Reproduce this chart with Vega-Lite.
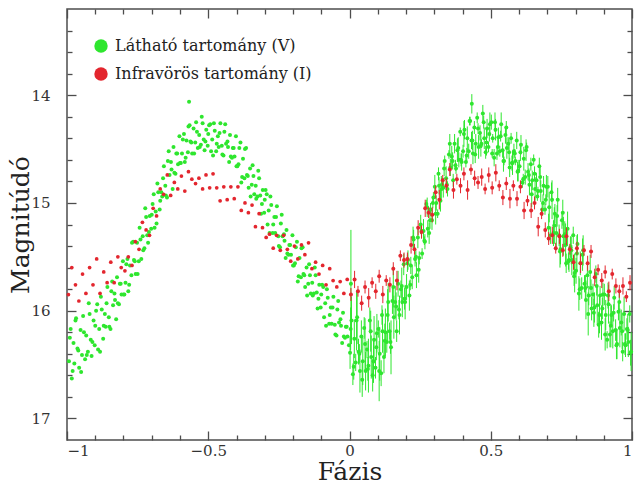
{
  "$schema": "https://vega.github.io/schema/vega-lite/v6.json",
  "width": 565,
  "height": 431,
  "autosize": {"type": "none"},
  "padding": {"left": 67, "top": 9, "right": 3, "bottom": 45},
  "background": "white",
  "config": {
    "view": {"stroke": "#4d4d4d", "strokeWidth": 1.5},
    "axis": {
      "domain": false,
      "grid": false,
      "tickColor": "#4d4d4d",
      "tickWidth": 1.3,
      "labelFont": "DejaVu Serif",
      "labelFontSize": 15,
      "labelColor": "#333333",
      "titleFont": "DejaVu Serif",
      "titleFontSize": 25,
      "titleFontWeight": "normal",
      "titleColor": "#222222"
    }
  },
  "datasets": {
    "vl": [
      {"p":-0.993,"m":16.47},{"p":-0.987,"m":16.17},{"p":-0.983,"m":16.63},{"p":-0.977,"m":16.30},{"p":-0.974,"m":16.49},{"p":-0.968,"m":16.07},{"p":-0.963,"m":16.35},{"p":-0.957,"m":16.53},{"p":-0.952,"m":16.18},{"p":-0.947,"m":16.41},
      {"p":-0.943,"m":16.05},{"p":-0.936,"m":16.45},{"p":-0.932,"m":16.23},{"p":-0.926,"m":16.38},{"p":-0.923,"m":15.93},{"p":-0.916,"m":16.27},{"p":-0.913,"m":16.42},{"p":-0.906,"m":16.09},{"p":-0.902,"m":16.32},{"p":-0.897,"m":16.00},
      {"p":-0.893,"m":15.94},{"p":-0.886,"m":16.17},{"p":-0.883,"m":16.38},{"p":-0.877,"m":15.99},{"p":-0.872,"m":16.26},{"p":-0.866,"m":16.03},{"p":-0.863,"m":16.15},{"p":-0.857,"m":15.78},{"p":-0.852,"m":16.06},{"p":-0.846,"m":16.17},
      {"p":-0.843,"m":15.82},{"p":-0.837,"m":15.95},{"p":-0.832,"m":15.84},{"p":-0.826,"m":16.08},{"p":-0.823,"m":15.69},{"p":-0.816,"m":15.94},{"p":-0.813,"m":15.75},{"p":-0.807,"m":15.85},{"p":-0.802,"m":15.54},{"p":-0.797,"m":15.85},
      {"p":-0.793,"m":15.74},{"p":-0.786,"m":15.52},{"p":-0.783,"m":15.82},{"p":-0.777,"m":15.58},{"p":-0.772,"m":15.67},{"p":-0.766,"m":15.36},{"p":-0.763,"m":15.53},{"p":-0.757,"m":15.66},{"p":-0.752,"m":15.37},{"p":-0.746,"m":15.54},
      {"p":-0.743,"m":15.23},{"p":-0.737,"m":15.52},{"p":-0.732,"m":15.31},{"p":-0.726,"m":15.42},{"p":-0.723,"m":15.05},{"p":-0.716,"m":15.30},{"p":-0.713,"m":15.37},{"p":-0.707,"m":15.12},{"p":-0.702,"m":15.24},{"p":-0.697,"m":15.01},
      {"p":-0.693,"m":14.92},{"p":-0.686,"m":15.08},{"p":-0.683,"m":15.19},{"p":-0.677,"m":14.90},{"p":-0.672,"m":15.06},{"p":-0.666,"m":14.90},{"p":-0.663,"m":14.94},{"p":-0.657,"m":14.66},{"p":-0.652,"m":14.84},{"p":-0.646,"m":14.95},
      {"p":-0.643,"m":14.61},{"p":-0.637,"m":14.74},{"p":-0.632,"m":14.62},{"p":-0.626,"m":14.87},{"p":-0.623,"m":14.48},{"p":-0.616,"m":14.73},{"p":-0.613,"m":14.54},{"p":-0.607,"m":14.64},{"p":-0.602,"m":14.38},{"p":-0.597,"m":14.63},
      {"p":-0.593,"m":14.54},{"p":-0.586,"m":14.36},{"p":-0.583,"m":14.62},{"p":-0.577,"m":14.42},{"p":-0.572,"m":14.53},{"p":-0.566,"m":14.28},{"p":-0.563,"m":14.43},{"p":-0.557,"m":14.54},{"p":-0.552,"m":14.31},{"p":-0.546,"m":14.44},
      {"p":-0.543,"m":14.25},{"p":-0.537,"m":14.49},{"p":-0.532,"m":14.37},{"p":-0.526,"m":14.46},{"p":-0.523,"m":14.20},{"p":-0.516,"m":14.41},{"p":-0.513,"m":14.51},{"p":-0.507,"m":14.32},{"p":-0.502,"m":14.47},{"p":-0.497,"m":14.28},
      {"p":-0.493,"m":14.27},{"p":-0.486,"m":14.41},{"p":-0.483,"m":14.56},{"p":-0.477,"m":14.33},{"p":-0.472,"m":14.52},{"p":-0.466,"m":14.38},{"p":-0.463,"m":14.48},{"p":-0.457,"m":14.26},{"p":-0.452,"m":14.47},{"p":-0.446,"m":14.56},
      {"p":-0.443,"m":14.34},{"p":-0.437,"m":14.45},{"p":-0.432,"m":14.43},{"p":-0.426,"m":14.62},{"p":-0.423,"m":14.37},{"p":-0.416,"m":14.58},{"p":-0.413,"m":14.49},{"p":-0.407,"m":14.57},{"p":-0.402,"m":14.38},{"p":-0.397,"m":14.66},
      {"p":-0.393,"m":14.64},{"p":-0.386,"m":14.44},{"p":-0.383,"m":14.81},{"p":-0.377,"m":14.59},{"p":-0.372,"m":14.77},{"p":-0.366,"m":14.49},{"p":-0.363,"m":14.74},{"p":-0.357,"m":14.86},{"p":-0.352,"m":14.68},{"p":-0.346,"m":14.83},
      {"p":-0.343,"m":14.65},{"p":-0.337,"m":14.92},{"p":-0.332,"m":14.84},{"p":-0.326,"m":14.94},{"p":-0.323,"m":14.70},{"p":-0.316,"m":14.93},{"p":-0.313,"m":15.10},{"p":-0.307,"m":14.88},{"p":-0.302,"m":15.09},{"p":-0.297,"m":14.88},
      {"p":-0.293,"m":14.92},{"p":-0.286,"m":15.07},{"p":-0.283,"m":15.28},{"p":-0.277,"m":15.02},{"p":-0.272,"m":15.28},{"p":-0.266,"m":15.13},{"p":-0.263,"m":15.28},{"p":-0.257,"m":15.03},{"p":-0.252,"m":15.31},{"p":-0.246,"m":15.41},
      {"p":-0.243,"m":15.19},{"p":-0.237,"m":15.31},{"p":-0.232,"m":15.29},{"p":-0.226,"m":15.51},{"p":-0.223,"m":15.25},{"p":-0.216,"m":15.48},{"p":-0.213,"m":15.39},{"p":-0.207,"m":15.48},{"p":-0.202,"m":15.30},{"p":-0.197,"m":15.58},
      {"p":-0.193,"m":15.56},{"p":-0.186,"m":15.36},{"p":-0.183,"m":15.73},{"p":-0.177,"m":15.51},{"p":-0.172,"m":15.69},{"p":-0.166,"m":15.41},{"p":-0.163,"m":15.66},{"p":-0.157,"m":15.78},{"p":-0.152,"m":15.60},{"p":-0.146,"m":15.75},
      {"p":-0.143,"m":15.57},{"p":-0.137,"m":15.84},{"p":-0.132,"m":15.74},{"p":-0.126,"m":15.84},{"p":-0.123,"m":15.60},{"p":-0.116,"m":15.83},{"p":-0.113,"m":15.98},{"p":-0.107,"m":15.76},{"p":-0.102,"m":15.97},{"p":-0.097,"m":15.76},
      {"p":-0.093,"m":15.78},{"p":-0.086,"m":15.93},{"p":-0.083,"m":16.14},{"p":-0.077,"m":15.88},{"p":-0.072,"m":16.12},{"p":-0.066,"m":15.97},{"p":-0.063,"m":16.12},{"p":-0.057,"m":15.87},{"p":-0.052,"m":16.13},{"p":-0.046,"m":16.23},
      {"p":-0.043,"m":15.99},{"p":-0.037,"m":16.11},{"p":-0.032,"m":16.08},{"p":-0.026,"m":16.30},{"p":-0.023,"m":16.02},{"p":-0.016,"m":16.25},{"p":-0.013,"m":16.15},{"p":-0.007,"m":16.24},{"p":-0.568,"m":14.06},
      {"p":-0.990,"m":16.25},{"p":-0.980,"m":16.56},{"p":-0.970,"m":16.09},{"p":-0.960,"m":16.37},{"p":-0.950,"m":16.57},{"p":-0.940,"m":16.20},{"p":-0.930,"m":16.41},{"p":-0.920,"m":16.03},{"p":-0.910,"m":16.29},{"p":-0.900,"m":16.14},
      {"p":-0.890,"m":16.36},{"p":-0.880,"m":15.87},{"p":-0.870,"m":16.14},{"p":-0.860,"m":15.93},{"p":-0.850,"m":16.15},{"p":-0.840,"m":15.73},{"p":-0.830,"m":15.90},{"p":-0.820,"m":15.93},{"p":-0.810,"m":15.75},{"p":-0.800,"m":15.85},
      {"p":-0.790,"m":15.57},{"p":-0.780,"m":15.76},{"p":-0.770,"m":15.37},{"p":-0.760,"m":15.54},{"p":-0.750,"m":15.66},{"p":-0.740,"m":15.34},{"p":-0.730,"m":15.44},{"p":-0.720,"m":15.13},{"p":-0.710,"m":15.27},{"p":-0.700,"m":15.11},
      {"p":-0.690,"m":15.23},{"p":-0.680,"m":14.82},{"p":-0.670,"m":14.98},{"p":-0.660,"m":14.77},{"p":-0.650,"m":14.93},{"p":-0.640,"m":14.52},{"p":-0.630,"m":14.69},{"p":-0.620,"m":14.72},{"p":-0.610,"m":14.54},{"p":-0.600,"m":14.63},
      {"p":-0.590,"m":14.41},{"p":-0.580,"m":14.58},{"p":-0.570,"m":14.29},{"p":-0.560,"m":14.44},{"p":-0.550,"m":14.54},{"p":-0.540,"m":14.34},{"p":-0.530,"m":14.48},{"p":-0.520,"m":14.26},{"p":-0.510,"m":14.43},{"p":-0.500,"m":14.36},
      {"p":-0.490,"m":14.52},{"p":-0.480,"m":14.26},{"p":-0.470,"m":14.45},{"p":-0.460,"m":14.35},{"p":-0.450,"m":14.55},{"p":-0.440,"m":14.27},{"p":-0.430,"m":14.48},{"p":-0.420,"m":14.57},{"p":-0.410,"m":14.49},{"p":-0.400,"m":14.66},
      {"p":-0.390,"m":14.49},{"p":-0.380,"m":14.76},{"p":-0.370,"m":14.50},{"p":-0.360,"m":14.75},{"p":-0.350,"m":14.94},{"p":-0.340,"m":14.75},{"p":-0.330,"m":14.96},{"p":-0.320,"m":14.77},{"p":-0.310,"m":15.01},{"p":-0.300,"m":14.97},
      {"p":-0.290,"m":15.20},{"p":-0.280,"m":14.94},{"p":-0.270,"m":15.20},{"p":-0.260,"m":15.13},{"p":-0.250,"m":15.40},{"p":-0.240,"m":15.11},{"p":-0.230,"m":15.35},{"p":-0.220,"m":15.47},{"p":-0.210,"m":15.39},{"p":-0.200,"m":15.58},
      {"p":-0.190,"m":15.41},{"p":-0.180,"m":15.68},{"p":-0.170,"m":15.42},{"p":-0.160,"m":15.67},{"p":-0.150,"m":15.86},{"p":-0.140,"m":15.67},{"p":-0.130,"m":15.86},{"p":-0.120,"m":15.67},{"p":-0.110,"m":15.89},{"p":-0.100,"m":15.85},
      {"p":-0.090,"m":16.06},{"p":-0.080,"m":15.80},{"p":-0.070,"m":16.04},{"p":-0.060,"m":15.97},{"p":-0.050,"m":16.22},{"p":-0.040,"m":15.91},{"p":-0.030,"m":16.14},{"p":-0.020,"m":16.24},{"p":-0.010,"m":16.15},{"p":-0.002,"m":16.32}
    ],
    "il": [
      {"p":-0.995,"m":15.85},{"p":-0.983,"m":15.60},{"p":-0.970,"m":15.76},{"p":-0.958,"m":15.91},{"p":-0.945,"m":15.66},{"p":-0.933,"m":15.84},{"p":-0.920,"m":15.60},{"p":-0.908,"m":15.76},{"p":-0.895,"m":15.52},{"p":-0.883,"m":15.84},
      {"p":-0.870,"m":15.64},{"p":-0.858,"m":15.74},{"p":-0.845,"m":15.55},{"p":-0.833,"m":15.74},{"p":-0.820,"m":15.50},{"p":-0.808,"m":15.60},{"p":-0.795,"m":15.63},{"p":-0.783,"m":15.50},{"p":-0.770,"m":15.58},{"p":-0.758,"m":15.36},
      {"p":-0.745,"m":15.43},{"p":-0.733,"m":15.18},{"p":-0.720,"m":15.25},{"p":-0.708,"m":15.30},{"p":-0.695,"m":15.05},{"p":-0.683,"m":15.12},{"p":-0.670,"m":14.87},{"p":-0.658,"m":14.92},{"p":-0.645,"m":14.74},{"p":-0.633,"m":14.93},
      {"p":-0.620,"m":14.81},{"p":-0.608,"m":14.87},{"p":-0.595,"m":14.75},{"p":-0.583,"m":14.89},{"p":-0.570,"m":14.71},{"p":-0.558,"m":14.78},{"p":-0.545,"m":14.82},{"p":-0.533,"m":14.77},{"p":-0.520,"m":14.87},{"p":-0.508,"m":14.74},
      {"p":-0.495,"m":14.86},{"p":-0.483,"m":14.73},{"p":-0.470,"m":14.86},{"p":-0.458,"m":14.98},{"p":-0.445,"m":14.85},{"p":-0.433,"m":14.97},{"p":-0.420,"m":14.85},{"p":-0.408,"m":14.96},{"p":-0.395,"m":14.85},{"p":-0.383,"m":15.07},
      {"p":-0.370,"m":15.00},{"p":-0.358,"m":15.09},{"p":-0.345,"m":15.02},{"p":-0.333,"m":15.22},{"p":-0.320,"m":15.10},{"p":-0.308,"m":15.23},{"p":-0.295,"m":15.32},{"p":-0.283,"m":15.29},{"p":-0.270,"m":15.42},{"p":-0.258,"m":15.30},
      {"p":-0.245,"m":15.44},{"p":-0.233,"m":15.30},{"p":-0.220,"m":15.43},{"p":-0.208,"m":15.54},{"p":-0.195,"m":15.40},{"p":-0.183,"m":15.52},{"p":-0.170,"m":15.39},{"p":-0.158,"m":15.48},{"p":-0.145,"m":15.37},{"p":-0.133,"m":15.61},
      {"p":-0.120,"m":15.55},{"p":-0.108,"m":15.66},{"p":-0.095,"m":15.58},{"p":-0.083,"m":15.76},{"p":-0.070,"m":15.61},{"p":-0.058,"m":15.72},{"p":-0.045,"m":15.78},{"p":-0.033,"m":15.73},{"p":-0.020,"m":15.84},{"p":-0.008,"m":15.71}
    ],
    "vr": [
      {"p":0.005,"m":15.75,"e":0.5},
      {"p":0.002,"m":16.39,"e":0.15},{"p":0.007,"m":16.09,"e":0.22},{"p":0.012,"m":16.59,"e":0.10},{"p":0.017,"m":16.26,"e":0.18},{"p":0.022,"m":16.48,"e":0.08},{"p":0.027,"m":16.06,"e":0.25},{"p":0.032,"m":16.38,"e":0.12},{"p":0.037,"m":16.56,"e":0.20},{"p":0.042,"m":16.24,"e":0.15},{"p":0.047,"m":16.47,"e":0.22},
      {"p":0.052,"m":16.16,"e":0.10},{"p":0.057,"m":16.56,"e":0.18},{"p":0.062,"m":16.36,"e":0.08},{"p":0.067,"m":16.51,"e":0.25},{"p":0.072,"m":16.09,"e":0.12},{"p":0.077,"m":16.43,"e":0.20},{"p":0.082,"m":16.60,"e":0.15},{"p":0.087,"m":16.27,"e":0.22},{"p":0.092,"m":16.53,"e":0.10},{"p":0.097,"m":16.21,"e":0.18},
      {"p":0.102,"m":16.17,"e":0.08},{"p":0.107,"m":16.40,"e":0.25},{"p":0.112,"m":16.58,"e":0.12},{"p":0.117,"m":16.19,"e":0.20},{"p":0.122,"m":16.43,"e":0.15},{"p":0.127,"m":16.20,"e":0.22},{"p":0.132,"m":16.29,"e":0.10},{"p":0.137,"m":15.92,"e":0.18},{"p":0.142,"m":16.19,"e":0.08},{"p":0.147,"m":16.34,"e":0.25},
      {"p":0.152,"m":15.91,"e":0.12},{"p":0.157,"m":16.06,"e":0.20},{"p":0.162,"m":15.92,"e":0.15},{"p":0.167,"m":16.19,"e":0.10},{"p":0.172,"m":15.75,"e":0.12},{"p":0.177,"m":16.04,"e":0.18},{"p":0.182,"m":15.80,"e":0.08},{"p":0.187,"m":15.92,"e":0.14},{"p":0.192,"m":15.57,"e":0.10},{"p":0.197,"m":15.92,"e":0.16},
      {"p":0.202,"m":15.78,"e":0.12},{"p":0.207,"m":15.53,"e":0.09},{"p":0.212,"m":15.86,"e":0.14},{"p":0.217,"m":15.58,"e":0.08},{"p":0.222,"m":15.69,"e":0.11},{"p":0.227,"m":15.34,"e":0.09},{"p":0.232,"m":15.52,"e":0.07},{"p":0.237,"m":15.67,"e":0.12},{"p":0.242,"m":15.32,"e":0.10},{"p":0.247,"m":15.51,"e":0.06},
      {"p":0.252,"m":15.20,"e":0.09},{"p":0.257,"m":15.47,"e":0.05},{"p":0.262,"m":15.26,"e":0.11},{"p":0.267,"m":15.36,"e":0.07},{"p":0.272,"m":15.01,"e":0.04},{"p":0.277,"m":15.24,"e":0.08},{"p":0.282,"m":15.28,"e":0.10},{"p":0.287,"m":15.06,"e":0.06},{"p":0.292,"m":15.16,"e":0.09},{"p":0.297,"m":14.95,"e":0.05},
      {"p":0.302,"m":14.85,"e":0.11},{"p":0.307,"m":15.00,"e":0.07},{"p":0.312,"m":15.10,"e":0.04},{"p":0.317,"m":14.84,"e":0.08},{"p":0.322,"m":14.98,"e":0.10},{"p":0.327,"m":14.83,"e":0.06},{"p":0.332,"m":14.86,"e":0.09},{"p":0.337,"m":14.61,"e":0.05},{"p":0.342,"m":14.77,"e":0.11},{"p":0.347,"m":14.87,"e":0.07},
      {"p":0.352,"m":14.55,"e":0.04},{"p":0.357,"m":14.67,"e":0.08},{"p":0.362,"m":14.57,"e":0.10},{"p":0.367,"m":14.79,"e":0.06},{"p":0.372,"m":14.45,"e":0.09},{"p":0.377,"m":14.68,"e":0.05},{"p":0.382,"m":14.51,"e":0.11},{"p":0.387,"m":14.60,"e":0.07},{"p":0.392,"m":14.34,"e":0.04},{"p":0.397,"m":14.62,"e":0.08},
      {"p":0.402,"m":14.52,"e":0.06},{"p":0.407,"m":14.32,"e":0.09},{"p":0.412,"m":14.62,"e":0.05},{"p":0.417,"m":14.40,"e":0.11},{"p":0.422,"m":14.52,"e":0.07},{"p":0.427,"m":14.24,"e":0.04},{"p":0.432,"m":14.42,"e":0.08},{"p":0.437,"m":14.54,"e":0.10},{"p":0.433,"m":14.08,"e":0.09},
      {"p":0.442,"m":14.30,"e":0.06},{"p":0.447,"m":14.45,"e":0.09},{"p":0.452,"m":14.21,"e":0.05},{"p":0.457,"m":14.48,"e":0.11},{"p":0.462,"m":14.35,"e":0.07},{"p":0.467,"m":14.45,"e":0.04},{"p":0.472,"m":14.17,"e":0.08},{"p":0.477,"m":14.40,"e":0.10},{"p":0.482,"m":14.53,"e":0.06},{"p":0.487,"m":14.31,"e":0.09},
      {"p":0.492,"m":14.48,"e":0.05},{"p":0.497,"m":14.27,"e":0.11},{"p":0.502,"m":14.25,"e":0.07},{"p":0.507,"m":14.40,"e":0.04},{"p":0.512,"m":14.58,"e":0.08},{"p":0.517,"m":14.32,"e":0.10},{"p":0.522,"m":14.54,"e":0.06},{"p":0.527,"m":14.39,"e":0.09},{"p":0.532,"m":14.52,"e":0.05},{"p":0.537,"m":14.27,"e":0.11},
      {"p":0.542,"m":14.51,"e":0.07},{"p":0.547,"m":14.61,"e":0.04},{"p":0.552,"m":14.37,"e":0.08},{"p":0.557,"m":14.49,"e":0.10},{"p":0.562,"m":14.45,"e":0.06},{"p":0.567,"m":14.67,"e":0.09},{"p":0.572,"m":14.40,"e":0.05},{"p":0.577,"m":14.63,"e":0.11},{"p":0.582,"m":14.52,"e":0.07},{"p":0.587,"m":14.61,"e":0.04},
      {"p":0.592,"m":14.42,"e":0.08},{"p":0.597,"m":14.70,"e":0.10},{"p":0.602,"m":14.66,"e":0.06},{"p":0.607,"m":14.46,"e":0.09},{"p":0.612,"m":14.81,"e":0.05},{"p":0.617,"m":14.59,"e":0.11},{"p":0.622,"m":14.76,"e":0.07},{"p":0.627,"m":14.48,"e":0.04},{"p":0.632,"m":14.71,"e":0.08},{"p":0.637,"m":14.83,"e":0.10},
      {"p":0.642,"m":14.64,"e":0.06},{"p":0.647,"m":14.79,"e":0.09},{"p":0.652,"m":14.60,"e":0.05},{"p":0.657,"m":14.87,"e":0.11},{"p":0.662,"m":14.79,"e":0.07},{"p":0.667,"m":14.89,"e":0.04},{"p":0.672,"m":14.66,"e":0.08},{"p":0.677,"m":14.89,"e":0.10},{"p":0.682,"m":15.06,"e":0.06},{"p":0.687,"m":14.84,"e":0.09},
      {"p":0.692,"m":15.06,"e":0.05},{"p":0.697,"m":14.85,"e":0.11},{"p":0.702,"m":14.85,"e":0.10},{"p":0.707,"m":15.04,"e":0.14},{"p":0.712,"m":15.30,"e":0.08},{"p":0.717,"m":14.97,"e":0.18},{"p":0.722,"m":15.28,"e":0.12},{"p":0.727,"m":15.10,"e":0.09},{"p":0.732,"m":15.28,"e":0.16},{"p":0.737,"m":14.97,"e":0.11},
      {"p":0.742,"m":15.30,"e":0.10},{"p":0.747,"m":15.43,"e":0.14},{"p":0.752,"m":15.16,"e":0.08},{"p":0.757,"m":15.31,"e":0.18},{"p":0.762,"m":15.29,"e":0.12},{"p":0.767,"m":15.56,"e":0.09},{"p":0.772,"m":15.24,"e":0.16},{"p":0.777,"m":15.53,"e":0.11},{"p":0.782,"m":15.41,"e":0.10},{"p":0.787,"m":15.53,"e":0.14},
      {"p":0.792,"m":15.30,"e":0.08},{"p":0.797,"m":15.65,"e":0.18},{"p":0.802,"m":15.63,"e":0.12},{"p":0.807,"m":15.38,"e":0.09},{"p":0.812,"m":15.84,"e":0.16},{"p":0.817,"m":15.56,"e":0.11},{"p":0.822,"m":15.79,"e":0.10},{"p":0.827,"m":15.44,"e":0.14},{"p":0.832,"m":15.75,"e":0.08},{"p":0.837,"m":15.90,"e":0.18},
      {"p":0.842,"m":15.67,"e":0.12},{"p":0.847,"m":15.86,"e":0.09},{"p":0.852,"m":15.64,"e":0.16},{"p":0.857,"m":15.98,"e":0.11},{"p":0.862,"m":15.85,"e":0.10},{"p":0.867,"m":15.97,"e":0.14},{"p":0.872,"m":15.66,"e":0.08},{"p":0.877,"m":15.95,"e":0.18},{"p":0.882,"m":16.13,"e":0.12},{"p":0.887,"m":15.86,"e":0.09},
      {"p":0.892,"m":16.11,"e":0.16},{"p":0.897,"m":15.85,"e":0.11},{"p":0.902,"m":15.85,"e":0.10},{"p":0.907,"m":16.04,"e":0.14},{"p":0.912,"m":16.27,"e":0.08},{"p":0.917,"m":15.94,"e":0.18},{"p":0.922,"m":16.22,"e":0.12},{"p":0.927,"m":16.04,"e":0.09},{"p":0.932,"m":16.19,"e":0.16},{"p":0.937,"m":15.88,"e":0.11},
      {"p":0.942,"m":16.18,"e":0.10},{"p":0.947,"m":16.31,"e":0.14},{"p":0.952,"m":16.01,"e":0.08},{"p":0.957,"m":16.16,"e":0.18},{"p":0.962,"m":16.11,"e":0.12},{"p":0.967,"m":16.38,"e":0.09},{"p":0.972,"m":16.03,"e":0.16},{"p":0.977,"m":16.32,"e":0.11},{"p":0.982,"m":16.17,"e":0.10},{"p":0.987,"m":16.29,"e":0.14},
      {"p":0.992,"m":16.03,"e":0.08},{"p":0.997,"m":16.38,"e":0.18},
      {"p":0.004,"m":16.17,"e":0.20},{"p":0.015,"m":16.52,"e":0.12},{"p":0.025,"m":16.09,"e":0.28},{"p":0.035,"m":16.40,"e":0.09},{"p":0.045,"m":16.64,"e":0.16},{"p":0.055,"m":16.31,"e":0.24},{"p":0.065,"m":16.54,"e":0.11},{"p":0.075,"m":16.19,"e":0.19},{"p":0.085,"m":16.47,"e":0.20},{"p":0.095,"m":16.34,"e":0.12},
      {"p":0.105,"m":16.56,"e":0.28},{"p":0.115,"m":16.04,"e":0.09},{"p":0.125,"m":16.28,"e":0.16},{"p":0.135,"m":16.04,"e":0.24},{"p":0.145,"m":16.29,"e":0.11},{"p":0.155,"m":15.78,"e":0.19},{"p":0.165,"m":15.96,"e":0.13},{"p":0.175,"m":15.99,"e":0.09},{"p":0.185,"m":15.77,"e":0.17},{"p":0.195,"m":15.89,"e":0.10},
      {"p":0.205,"m":15.56,"e":0.08},{"p":0.215,"m":15.76,"e":0.05},{"p":0.225,"m":15.32,"e":0.10},{"p":0.235,"m":15.50,"e":0.06},{"p":0.245,"m":15.62,"e":0.12},{"p":0.255,"m":15.26,"e":0.07},{"p":0.265,"m":15.35,"e":0.04},{"p":0.275,"m":15.04,"e":0.09},{"p":0.285,"m":15.16,"e":0.08},{"p":0.295,"m":15.00,"e":0.05},
      {"p":0.305,"m":15.10,"e":0.10},{"p":0.315,"m":14.73,"e":0.06},{"p":0.325,"m":14.87,"e":0.12},{"p":0.335,"m":14.68,"e":0.07},{"p":0.345,"m":14.83,"e":0.04},{"p":0.355,"m":14.45,"e":0.09},{"p":0.365,"m":14.61,"e":0.08},{"p":0.375,"m":14.65,"e":0.05},{"p":0.385,"m":14.49,"e":0.10},{"p":0.395,"m":14.60,"e":0.06},
      {"p":0.405,"m":14.36,"e":0.12},{"p":0.415,"m":14.56,"e":0.07},{"p":0.425,"m":14.24,"e":0.04},{"p":0.435,"m":14.42,"e":0.09},{"p":0.445,"m":14.55,"e":0.08},{"p":0.455,"m":14.31,"e":0.05},{"p":0.465,"m":14.47,"e":0.10},{"p":0.475,"m":14.25,"e":0.06},{"p":0.485,"m":14.44,"e":0.12},{"p":0.495,"m":14.36,"e":0.07},
      {"p":0.505,"m":14.54,"e":0.04},{"p":0.515,"m":14.25,"e":0.09},{"p":0.525,"m":14.48,"e":0.08},{"p":0.535,"m":14.38,"e":0.05},{"p":0.545,"m":14.61,"e":0.10},{"p":0.555,"m":14.30,"e":0.06},{"p":0.565,"m":14.53,"e":0.12},{"p":0.575,"m":14.63,"e":0.07},{"p":0.585,"m":14.54,"e":0.04},{"p":0.595,"m":14.71,"e":0.09},
      {"p":0.605,"m":14.53,"e":0.08},{"p":0.615,"m":14.78,"e":0.05},{"p":0.625,"m":14.51,"e":0.10},{"p":0.635,"m":14.74,"e":0.06},{"p":0.645,"m":14.92,"e":0.12},{"p":0.655,"m":14.73,"e":0.07},{"p":0.665,"m":14.94,"e":0.04},{"p":0.675,"m":14.76,"e":0.09},{"p":0.685,"m":15.00,"e":0.08},{"p":0.695,"m":14.97,"e":0.05},
      {"p":0.705,"m":15.23,"e":0.13},{"p":0.715,"m":14.90,"e":0.09},{"p":0.725,"m":15.21,"e":0.17},{"p":0.735,"m":15.12,"e":0.10},{"p":0.745,"m":15.45,"e":0.15},{"p":0.755,"m":15.09,"e":0.12},{"p":0.765,"m":15.39,"e":0.20},{"p":0.775,"m":15.54,"e":0.08},{"p":0.785,"m":15.44,"e":0.13},{"p":0.795,"m":15.68,"e":0.09},
      {"p":0.805,"m":15.47,"e":0.17},{"p":0.815,"m":15.80,"e":0.10},{"p":0.825,"m":15.48,"e":0.15},{"p":0.835,"m":15.79,"e":0.12},{"p":0.845,"m":16.03,"e":0.20},{"p":0.855,"m":15.79,"e":0.08},{"p":0.865,"m":16.02,"e":0.13},{"p":0.875,"m":15.77,"e":0.09},{"p":0.885,"m":16.04,"e":0.17},{"p":0.895,"m":15.98,"e":0.10},
      {"p":0.905,"m":16.22,"e":0.15},{"p":0.915,"m":15.86,"e":0.12},{"p":0.925,"m":16.14,"e":0.20},{"p":0.935,"m":16.02,"e":0.08},{"p":0.945,"m":16.32,"e":0.13},{"p":0.955,"m":15.92,"e":0.09},{"p":0.965,"m":16.19,"e":0.17},{"p":0.975,"m":16.31,"e":0.10},{"p":0.985,"m":16.18,"e":0.15},{"p":0.995,"m":16.39,"e":0.12}
    ],
    "ir": [
      {"p":0.005,"m":15.85,"e":0.06},{"p":0.018,"m":15.71,"e":0.08},{"p":0.030,"m":15.82,"e":0.05},{"p":0.043,"m":15.93,"e":0.07},{"p":0.055,"m":15.78,"e":0.06},{"p":0.068,"m":15.88,"e":0.09},{"p":0.080,"m":15.74,"e":0.05},{"p":0.093,"m":15.82,"e":0.07},{"p":0.105,"m":15.68,"e":0.06},{"p":0.118,"m":15.85,"e":0.08},
      {"p":0.130,"m":15.72,"e":0.05},{"p":0.143,"m":15.76,"e":0.07},{"p":0.155,"m":15.61,"e":0.06},{"p":0.168,"m":15.72,"e":0.09},{"p":0.180,"m":15.49,"e":0.05},{"p":0.193,"m":15.53,"e":0.07},{"p":0.205,"m":15.52,"e":0.06},{"p":0.218,"m":15.39,"e":0.08},{"p":0.230,"m":15.43,"e":0.05},{"p":0.243,"m":15.23,"e":0.07},
      {"p":0.255,"m":15.27,"e":0.06},{"p":0.268,"m":15.05,"e":0.08},{"p":0.280,"m":15.09,"e":0.05},{"p":0.293,"m":15.11,"e":0.07},{"p":0.305,"m":14.90,"e":0.06},{"p":0.318,"m":14.97,"e":0.09},{"p":0.330,"m":14.79,"e":0.05},{"p":0.343,"m":14.84,"e":0.07},{"p":0.355,"m":14.69,"e":0.06},{"p":0.368,"m":14.88,"e":0.08},
      {"p":0.380,"m":14.78,"e":0.05},{"p":0.393,"m":14.84,"e":0.07},{"p":0.405,"m":14.73,"e":0.06},{"p":0.418,"m":14.88,"e":0.09},{"p":0.430,"m":14.69,"e":0.05},{"p":0.443,"m":14.77,"e":0.07},{"p":0.455,"m":14.81,"e":0.06},{"p":0.468,"m":14.76,"e":0.08},{"p":0.480,"m":14.87,"e":0.05},{"p":0.493,"m":14.74,"e":0.07},
      {"p":0.505,"m":14.86,"e":0.06},{"p":0.518,"m":14.72,"e":0.08},{"p":0.530,"m":14.84,"e":0.05},{"p":0.543,"m":14.95,"e":0.07},{"p":0.555,"m":14.82,"e":0.06},{"p":0.568,"m":14.96,"e":0.09},{"p":0.580,"m":14.84,"e":0.05},{"p":0.593,"m":14.96,"e":0.07},{"p":0.605,"m":14.85,"e":0.06},{"p":0.618,"m":15.07,"e":0.08},
      {"p":0.630,"m":14.98,"e":0.05},{"p":0.643,"m":15.07,"e":0.07},{"p":0.655,"m":15.00,"e":0.06},{"p":0.668,"m":15.22,"e":0.09},{"p":0.680,"m":15.10,"e":0.05},{"p":0.693,"m":15.25,"e":0.07},{"p":0.705,"m":15.33,"e":0.06},{"p":0.718,"m":15.30,"e":0.08},{"p":0.730,"m":15.42,"e":0.05},{"p":0.743,"m":15.31,"e":0.07},
      {"p":0.755,"m":15.44,"e":0.06},{"p":0.768,"m":15.31,"e":0.08},{"p":0.780,"m":15.43,"e":0.05},{"p":0.793,"m":15.55,"e":0.07},{"p":0.805,"m":15.42,"e":0.06},{"p":0.818,"m":15.56,"e":0.09},{"p":0.830,"m":15.44,"e":0.05},{"p":0.843,"m":15.56,"e":0.07},{"p":0.855,"m":15.45,"e":0.06},{"p":0.868,"m":15.69,"e":0.08},
      {"p":0.880,"m":15.62,"e":0.05},{"p":0.893,"m":15.72,"e":0.07},{"p":0.905,"m":15.64,"e":0.06},{"p":0.918,"m":15.82,"e":0.09},{"p":0.930,"m":15.66,"e":0.05},{"p":0.943,"m":15.77,"e":0.07},{"p":0.955,"m":15.82,"e":0.06},{"p":0.968,"m":15.77,"e":0.08},{"p":0.980,"m":15.87,"e":0.05},{"p":0.993,"m":15.74,"e":0.07}
    ]
  },
  "resolve": {"axis": {"x": "independent", "y": "independent"}},
  "layer": [
    {
      "data": {"name": "vl"},
      "mark": {"type": "circle", "size": 16, "opacity": 1},
      "encoding": {
        "x": {"field": "p", "type": "quantitative",
              "scale": {"domain": [-1, 1], "nice": false, "zero": false},
              "axis": {"orient": "bottom", "values": [-1, -0.5, 0, 0.5, 1], "tickSize": -9, "labelPadding": 12,
                       "labelExpr": "replace(toString(datum.value), '-', '\u2212')",
                       "title": "Fázis", "titlePadding": 1}},
        "y": {"field": "m", "type": "quantitative",
              "scale": {"domain": [13.2, 17.2], "reverse": true, "nice": false, "zero": false},
              "axis": {"orient": "left", "values": [14, 15, 16, 17], "tickSize": -9, "labelPadding": 26,
                       "title": "Magnitúdó", "titlePadding": -3}},
        "color": {"datum": "Látható tartomány (V)",
                  "scale": {"domain": ["Látható tartomány (V)", "Infravörös tartomány (I)"], "range": ["#2ee62e", "#e3262e"]},
                  "legend": {"orient": "none", "legendX": 26, "legendY": 29, "title": null, "padding": 0,
                             "symbolType": "circle", "symbolSize": 180, "symbolOpacity": 1, "symbolStrokeWidth": 0,
                             "labelFont": "DejaVu Serif", "labelFontSize": 16, "labelColor": "#222222", "labelLimit": 400,
                             "labelOffset": 6, "rowPadding": 12}}
      }
    },
    {
      "data": {"name": "il"},
      "mark": {"type": "circle", "size": 14, "opacity": 1},
      "encoding": {
        "x": {"field": "p", "type": "quantitative",
              "axis": {"orient": "bottom", "values": [-0.9, -0.8, -0.7, -0.6, -0.4, -0.3, -0.2, -0.1, 0.1, 0.2, 0.3, 0.4, 0.6, 0.7, 0.8, 0.9],
                       "tickSize": -5, "labels": false, "title": null}},
        "y": {"field": "m", "type": "quantitative",
              "axis": {"orient": "left", "values": [13.4, 13.6, 13.8, 14.2, 14.4, 14.6, 14.8, 15.2, 15.4, 15.6, 15.8, 16.2, 16.4, 16.6, 16.8],
                       "tickSize": -5, "labels": false, "title": null}},
        "color": {"datum": "Infravörös tartomány (I)"}
      }
    },
    {
      "data": {"name": "vr"},
      "mark": {"type": "errorbar", "color": "#2ee62e", "thickness": 1},
      "encoding": {
        "x": {"field": "p", "type": "quantitative", "axis": null},
        "y": {"field": "m", "type": "quantitative", "axis": null},
        "yError": {"field": "e"}
      }
    },
    {
      "data": {"name": "vr"},
      "mark": {"type": "circle", "size": 16, "opacity": 1},
      "encoding": {
        "x": {"field": "p", "type": "quantitative",
              "axis": {"orient": "top", "values": [-1, -0.5, 0, 0.5, 1], "tickSize": -9, "labels": false, "title": null}},
        "y": {"field": "m", "type": "quantitative",
              "axis": {"orient": "right", "values": [14, 15, 16, 17], "tickSize": -9, "labels": false, "title": null}},
        "color": {"datum": "Látható tartomány (V)"}
      }
    },
    {
      "data": {"name": "ir"},
      "mark": {"type": "errorbar", "color": "#e3262e", "thickness": 1},
      "encoding": {
        "x": {"field": "p", "type": "quantitative", "axis": null},
        "y": {"field": "m", "type": "quantitative", "axis": null},
        "yError": {"field": "e"}
      }
    },
    {
      "data": {"name": "ir"},
      "mark": {"type": "circle", "size": 16, "opacity": 1},
      "encoding": {
        "x": {"field": "p", "type": "quantitative",
              "axis": {"orient": "top", "values": [-0.9, -0.8, -0.7, -0.6, -0.4, -0.3, -0.2, -0.1, 0.1, 0.2, 0.3, 0.4, 0.6, 0.7, 0.8, 0.9],
                       "tickSize": -5, "labels": false, "title": null}},
        "y": {"field": "m", "type": "quantitative",
              "axis": {"orient": "right", "values": [13.4, 13.6, 13.8, 14.2, 14.4, 14.6, 14.8, 15.2, 15.4, 15.6, 15.8, 16.2, 16.4, 16.6, 16.8],
                       "tickSize": -5, "labels": false, "title": null}},
        "color": {"datum": "Infravörös tartomány (I)"}
      }
    }
  ]
}
